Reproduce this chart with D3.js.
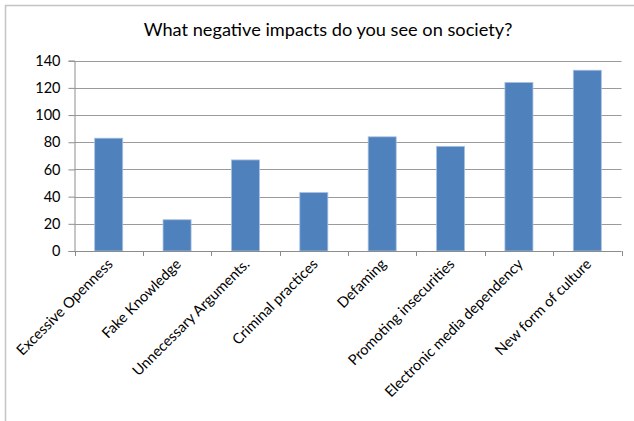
<!DOCTYPE html>
<html>
<head>
<meta charset="utf-8">
<script src="https://cdn.jsdelivr.net/npm/d3@7"></script>
<style>
  html, body { margin: 0; padding: 0; background: #fff; }
  svg { display: block; }
  text { font-family: Lato, "Liberation Sans", sans-serif; fill: #000; }
</style>
</head>
<body>
<svg id="chart" width="634" height="421"></svg>
<script>
// Survey responses: negative impacts seen on society
const categories = [
  "Excessive Openness",
  "Fake Knowledge",
  "Unnecessary Arguments.",
  "Criminal practices",
  "Defaming",
  "Promoting insecurities",
  "Electronic media dependency",
  "New form of culture"
];
const counts = [83, 23, 67, 43, 84, 77, 124, 133];
const yTicks = [0, 20, 40, 60, 80, 100, 120, 140];
const title = "What negative impacts do you see on society?";

const svg = d3.select("#chart");
const W = 634, H = 421;
const plot = { left: 74.5, right: 621.5, top: 60.7, bottom: 251 };

// outer frame (top and left edges visible)
svg.append("path")
  .attr("d", `M5.5,${H} V5.5 H${W}`)
  .attr("fill", "none")
  .attr("stroke", "#c4c4c4")
  .attr("stroke-width", 1.5);

svg.append("text")
  .attr("x", 328)
  .attr("y", 36)
  .attr("text-anchor", "middle")
  .attr("font-size", 18.2)
  .text(title);

const x = d3.scaleBand()
  .domain(categories)
  .range([plot.left, plot.right])
  .padding(0);

const y = d3.scaleLinear()
  .domain([0, 140])
  .range([plot.bottom, plot.top]);

// horizontal gridlines
svg.append("g")
  .selectAll("line")
  .data(yTicks.filter(d => d > 0))
  .join("line")
  .attr("x1", plot.left)
  .attr("x2", plot.right)
  .attr("y1", d => Math.round(y(d)) + 0.5)
  .attr("y2", d => Math.round(y(d)) + 0.5)
  .attr("stroke", "#9a9a9a")
  .attr("stroke-width", 1);

// y axis
const yAxis = svg.append("g")
  .attr("transform", `translate(${plot.left},0)`)
  .call(d3.axisLeft(y).tickValues(yTicks).tickSize(6).tickPadding(8).tickFormat(d3.format("d")));
yAxis.select(".domain").attr("stroke", "#8c8c8c");
yAxis.selectAll(".tick line").attr("stroke", "#8c8c8c");
yAxis.selectAll(".tick text")
  .attr("font-size", 14.5)
  .attr("font-family", "Lato, 'Liberation Sans', sans-serif")
  .attr("fill", "#000");

// bars
const barFrac = 0.41;
svg.append("g")
  .selectAll("rect")
  .data(categories)
  .join("rect")
  .attr("x", (d) => x(d) + x.bandwidth() * (1 - barFrac) / 2)
  .attr("width", x.bandwidth() * barFrac)
  .attr("y", (d, i) => y(counts[i]))
  .attr("height", (d, i) => y(0) - y(counts[i]))
  .attr("fill", "#4f81bd")
  .attr("stroke", "#a9c1e2")
  .attr("stroke-width", 0.8);

// x axis with ticks on band boundaries
const xAxis = svg.append("g").attr("transform", `translate(0,${plot.bottom})`);
xAxis.append("line")
  .attr("x1", plot.left).attr("x2", plot.right)
  .attr("y1", 0.5).attr("y2", 0.5)
  .attr("stroke", "#8c8c8c");
const bounds = categories.map(c => x(c)).concat([plot.right]);
xAxis.selectAll("line.tk")
  .data(bounds)
  .join("line")
  .attr("class", "tk")
  .attr("x1", d => Math.round(d) + 0.5)
  .attr("x2", d => Math.round(d) + 0.5)
  .attr("y1", 0)
  .attr("y2", 5)
  .attr("stroke", "#8c8c8c");

// rotated category labels
svg.append("g")
  .selectAll("text")
  .data(categories)
  .join("text")
  .attr("transform", d => `translate(${x(d) + x.bandwidth() / 2 + 5},${plot.bottom + 14}) rotate(-45)`)
  .attr("text-anchor", "end")
  .attr("font-size", 14.6)
  .text(d => d);
</script>
</body>
</html>
